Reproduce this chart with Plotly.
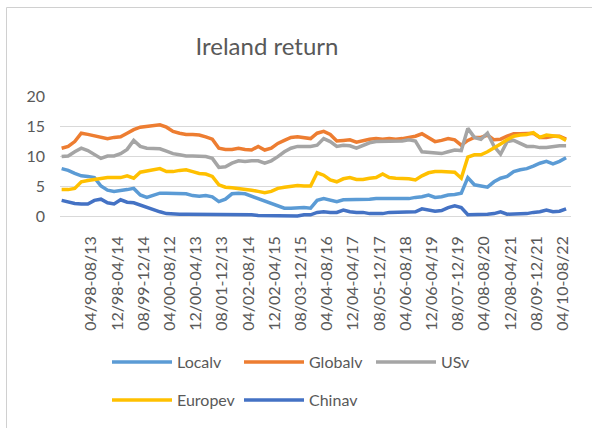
import plotly.graph_objects as go

# Window index (2-month steps) of each observation, and the labelled windows
window_index = list(range(78))
tick_positions = [4.5 + 4 * j for j in range(19)]
tick_labels = ["04/98-08/13", "12/98-04/14", "08/99-12/14", "04/00-08/12", "12/00-04/13",
               "08/01-12/13", "04/02-08/14", "12/02-04/15", "08/03-12/15", "04/04-08/16",
               "12/04-04/17", "08/05-12/17", "04/06-08/18", "12/06-04/19", "08/07-12/19",
               "04/08-08/20", "12/08-04/21", "08/09-12/21", "04/10-08/22"]

localv = [7.9, 7.6, 7.1, 6.7, 6.6, 6.4, 5.0, 4.3, 4.1, 4.2, 4.4, 4.6, 3.5, 3.1, 3.5, 3.8,
          3.8, 3.8, 3.8, 3.7, 3.4, 3.3, 3.4, 3.2, 2.4, 2.8, 3.7, 3.8, 3.7, 3.3, 2.9, 2.6,
          2.2, 1.8, 1.3, 1.3, 1.4, 1.4, 1.3, 2.6, 2.9, 2.6, 2.4, 2.7, 2.7, 2.7, 2.8, 2.8,
          2.9, 2.9, 2.8, 2.8, 2.9, 2.9, 3.1, 3.2, 3.5, 3.1, 3.2, 3.5, 3.6, 3.8, 6.4, 5.2,
          5.0, 4.8, 5.7, 6.3, 6.6, 7.4, 7.7, 7.9, 8.3, 8.8, 9.1, 8.7, 9.1, 9.7]

globalv = [11.3, 11.6, 12.4, 13.8, 13.6, 13.4, 13.2, 12.9, 13.1, 13.2, 13.8, 14.4, 14.8, 14.9,
           15.1, 15.2, 14.8, 14.1, 13.8, 13.6, 13.6, 13.5, 13.2, 12.8, 11.3, 11.1, 11.1, 11.3,
           11.1, 11.0, 11.6, 11.0, 11.3, 12.1, 12.6, 13.1, 13.2, 13.1, 12.9, 13.8, 14.1, 13.6,
           12.5, 12.6, 12.7, 12.3, 12.6, 12.8, 12.9, 12.8, 12.9, 12.8, 12.9, 13.1, 13.3, 13.7,
           13.1, 12.4, 12.6, 12.9, 12.7, 11.8, 12.6, 13.1, 13.1, 13.5, 12.7, 12.8, 13.3, 13.7,
           13.7, 13.8, 13.8, 13.1, 13.1, 13.3, 13.3, 12.8]

usv = [9.9, 10.0, 10.7, 11.3, 10.9, 10.2, 9.6, 10.0, 10.0, 10.4, 11.1, 12.6, 11.6, 11.3,
       11.3, 11.2, 10.8, 10.4, 10.2, 10.0, 10.0, 10.0, 9.9, 9.6, 8.1, 8.2, 8.8, 9.2, 9.1,
       9.2, 9.2, 8.8, 9.2, 9.9, 10.7, 11.3, 11.6, 11.6, 11.6, 11.8, 12.9, 12.4, 11.6, 11.8,
       11.7, 11.3, 11.8, 12.2, 12.4, 12.4, 12.4, 12.4, 12.5, 12.7, 12.5, 10.7, 10.6, 10.4,
       10.4, 10.7, 11.0, 10.9, 14.6, 13.1, 12.8, 13.8, 11.6, 10.3, 12.4, 12.6, 12.1, 11.6,
       11.6, 11.4, 11.4, 11.6, 11.7, 11.7]

europev = [4.4, 4.4, 4.6, 5.7, 5.9, 6.1, 6.3, 6.4, 6.4, 6.4, 6.7, 6.3, 7.3, 7.5, 7.6, 7.9,
           7.4, 7.4, 7.6, 7.7, 7.4, 7.1, 7.0, 6.6, 5.2, 4.8, 4.7, 4.6, 4.4, 4.3, 4.1, 3.9,
           4.1, 4.6, 4.8, 5.0, 5.1, 5.0, 5.0, 7.2, 6.8, 6.0, 5.7, 6.2, 6.4, 6.1, 6.1, 6.3,
           6.4, 7.0, 6.4, 6.3, 6.3, 6.2, 6.0, 6.7, 7.2, 7.4, 7.4, 7.4, 7.3, 6.3, 9.8, 10.2,
           10.2, 10.7, 11.3, 12.0, 12.7, 13.3, 13.5, 13.6, 13.9, 13.1, 13.5, 13.3, 13.2, 12.6]

chinav = [2.6, 2.3, 2.1, 2.0, 2.0, 2.6, 2.8, 2.2, 2.0, 2.7, 2.3, 2.2, 1.8, 1.4, 1.1, 0.7,
          0.4, 0.3, 0.3, 0.3, 0.3, 0.2, 0.2, 0.2, 0.2, 0.2, 0.2, 0.2, 0.2, 0.2, 0.1, 0.1,
          0.1, 0.1, 0.1, 0.0, 0.0, 0.2, 0.2, 0.6, 0.7, 0.6, 0.6, 1.0, 0.7, 0.6, 0.6, 0.4,
          0.4, 0.4, 0.6, 0.6, 0.6, 0.7, 0.7, 1.2, 1.0, 0.8, 0.9, 1.4, 1.7, 1.4, 0.2, 0.2,
          0.2, 0.3, 0.4, 0.7, 0.3, 0.3, 0.4, 0.4, 0.6, 0.7, 1.0, 0.7, 0.8, 1.2]

series = [
    ("Localv", localv, "#5B9BD5", "legend"),
    ("Globalv", globalv, "#ED7D31", "legend"),
    ("USv", usv, "#A5A5A5", "legend"),
    ("Europev", europev, "#FFC000", "legend2"),
    ("Chinav", chinav, "#4472C4", "legend2"),
]

TEXT = "#595959"
FONT = "Lato"

fig = go.Figure()
for name, vals, color, leg in series:
    fig.add_trace(go.Scatter(
        x=window_index, y=vals, name=name, mode="lines",
        line=dict(color=color, width=3.5),
        legend=leg,
    ))

W, H = 592, 428
L, R, T, B = 60, 21, 96, 209
pw, ph = W - L - R, H - T - B

def px_x(p):
    return (p - L) / pw

def px_y(p):
    return (H - B - p) / ph

legend_common = dict(orientation="h", xref="container", yref="container",
                     xanchor="left", yanchor="middle",
                     entrywidth=57, entrywidthmode="pixels",
                     font=dict(size=16, color=TEXT, family=FONT), itemwidth=60,
                     bgcolor="rgba(0,0,0,0)")

fig.update_layout(
    width=W, height=H,
    margin=dict(l=L, r=R, t=T, b=B, pad=0),
    paper_bgcolor="white", plot_bgcolor="white",
    font=dict(family=FONT, color=TEXT, size=16),
    title=dict(text="Ireland return", x=267 / W, xanchor="center", xref="container",
               y=1 - 47 / H, yanchor="middle", yref="container",
               font=dict(size=24, color=TEXT, family=FONT)),
    xaxis=dict(range=[-0.25, 77.75], tickmode="array", tickvals=tick_positions,
               ticktext=tick_labels, tickangle=-90, showgrid=False, showline=False,
               zeroline=False, ticks="", ticklabelstandoff=13,
               tickfont=dict(size=16, color=TEXT, family=FONT)),
    yaxis=dict(range=[-0.5, 20], tickmode="array", tickvals=[0, 5, 10, 15, 20],
               showgrid=True, gridcolor="#D9D9D9", gridwidth=1, zeroline=False,
               showline=False, ticks="", ticklabelstandoff=14,
               tickfont=dict(size=16, color=TEXT, family=FONT)),
    legend=dict(x=107 / W, y=1 - 362 / H, **legend_common),
    legend2=dict(x=107 / W, y=1 - 400 / H, **legend_common),
    shapes=[dict(type="rect", xref="paper", yref="paper",
                 x0=px_x(6.5), x1=px_x(700), y0=px_y(600), y1=px_y(7.5),
                 line=dict(color="#D0D0D0", width=1), fillcolor="rgba(0,0,0,0)",
                 layer="above")],
)

fig.write_html("out.html", config={"displayModeBar": False},
               post_script="document.body.style.margin='0';")
